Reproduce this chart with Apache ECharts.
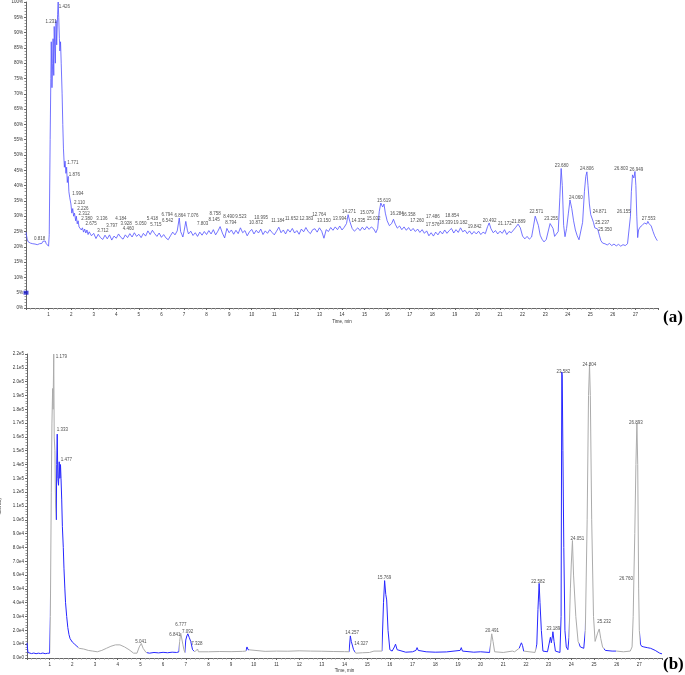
<!DOCTYPE html>
<html>
<head>
<meta charset="utf-8">
<script src="https://cdn.jsdelivr.net/npm/echarts@6/dist/echarts.min.js"></script>
<style>
  html, body { margin: 0; padding: 0; background: #fff; }
  #chart { width: 685px; height: 675px; }
</style>
</head>
<body>
<div id="chart"></div>
<script>
// (a) TIC, % intensity vs time (min)
var aTrace = [
  [0,24.8],[0.05,22.5],[0.1,21.6],[0.15,22.0],[0.2,21.2],[0.25,21.8],[0.3,21.0],[0.35,21.5],[0.4,20.9],[0.45,21.4],
  [0.5,20.7],[0.55,21.3],[0.6,21.0],[0.65,21.6],[0.7,21.1],[0.75,21.8],[0.8,21.3],[0.85,21.9],[0.9,21.0],[0.95,20.4],
  [1.0,20.2],[1.03,24],[1.07,55],[1.1,75],[1.12,87],[1.15,72],[1.18,80],[1.2,88],[1.23,76],[1.25,92],
  [1.28,84],[1.3,80],[1.33,94],[1.36,86],[1.4,96],[1.426,100],[1.45,95],[1.48,88],[1.5,84],[1.53,87],
  [1.56,80],[1.6,70],[1.63,60],[1.66,52],[1.7,46],[1.73,48],[1.77,44],[1.8,46],[1.83,41],[1.87,43],
  [1.9,38],[1.94,36],[1.99,34],[2.03,31],[2.07,32.5],[2.11,30],[2.15,31],[2.2,28.5],[2.23,30],[2.27,27.5],
  [2.31,28.5],[2.35,26.5],[2.4,27],[2.45,25.5],[2.5,26.2],[2.55,24.8],[2.6,25.8],[2.65,24.5],[2.7,25.5],[2.75,24],
  [2.8,24.9],[2.9,23.6],[3.0,24.4],[3.1,22.7],[3.2,24.1],[3.3,23.0],[3.4,22.4],[3.5,23.8],[3.6,22.6],[3.7,23.9],
  [3.8,22.2],[3.9,23.5],[4.0,22.8],[4.1,24.2],[4.2,23.1],[4.3,22.5],[4.4,23.9],[4.5,23.0],[4.6,24.3],[4.7,23.2],
  [4.8,24.6],[4.9,23.4],[5.0,24.1],[5.1,23.0],[5.2,24.4],[5.3,23.5],[5.4,25.2],[5.5,24.0],[5.6,25.4],[5.7,24.3],
  [5.8,23.4],[5.9,24.5],[6.0,23.1],[6.1,24.0],[6.2,22.9],[6.3,22.3],[6.4,23.6],[6.5,24.8],[6.6,23.9],[6.7,25.2],
  [6.79,29.4],[6.85,25.0],[6.9,24.1],[6.95,23.2],[7.0,25.0],[7.08,28.3],[7.15,25.4],[7.2,24.2],[7.3,25.1],[7.4,23.7],
  [7.5,24.6],[7.6,23.4],[7.7,24.8],[7.8,23.8],[7.9,25.0],[8.0,24.0],[8.1,25.3],[8.2,24.2],[8.3,25.6],[8.4,23.9],
  [8.5,25.1],[8.6,26.6],[8.7,24.5],[8.8,22.9],[8.9,26.0],[9.0,24.6],[9.1,25.5],[9.2,24.1],[9.3,25.4],[9.4,24.3],
  [9.5,26.2],[9.6,24.6],[9.7,25.3],[9.8,23.6],[9.9,24.9],[10.0,25.7],[10.1,24.2],[10.2,25.4],[10.3,24.5],[10.4,25.8],
  [10.5,24.0],[10.6,25.2],[10.7,24.4],[10.8,25.6],[10.9,24.7],[11.0,23.9],[11.1,25.1],[11.2,26.4],[11.3,24.6],[11.4,25.5],
  [11.5,24.2],[11.6,25.7],[11.7,24.8],[11.8,26.0],[11.9,24.5],[12.0,25.3],[12.1,24.1],[12.2,25.8],[12.3,24.9],[12.4,26.3],
  [12.5,25.0],[12.6,24.3],[12.7,25.6],[12.8,25.9],[12.9,24.8],[13.0,26.2],[13.1,25.1],[13.2,22.8],[13.3,25.6],[13.4,25.0],
  [13.5,26.3],[13.6,25.4],[13.7,26.5],[13.8,25.6],[13.9,26.8],[14.0,25.5],[14.1,26.4],[14.2,27.6],[14.27,30.5],[14.35,28.2],
  [14.45,26.0],[14.55,25.1],[14.7,26.2],[14.8,25.3],[14.9,26.4],[15.0,25.5],[15.1,26.6],[15.2,25.7],[15.3,26.5],[15.4,25.9],
  [15.5,24.6],[15.58,26.0],[15.65,31.5],[15.72,34.3],[15.8,33.0],[15.86,34.0],[15.92,31.0],[16.0,28.5],[16.1,26.9],[16.2,27.6],
  [16.28,29.0],[16.36,27.4],[16.45,26.1],[16.55,26.8],[16.65,25.6],[16.75,26.5],[16.85,25.4],[16.95,26.3],[17.05,25.2],[17.15,26.0],
  [17.25,25.0],[17.35,25.8],[17.45,24.7],[17.55,25.6],[17.65,24.4],[17.75,25.2],[17.85,23.6],[17.95,24.6],[18.05,23.5],[18.15,24.8],
  [18.25,23.9],[18.35,25.1],[18.45,24.2],[18.55,25.5],[18.65,24.4],[18.75,25.3],[18.85,26.0],[18.95,24.5],[19.05,25.6],[19.15,24.7],
  [19.25,26.2],[19.35,24.9],[19.45,25.4],[19.55,24.3],[19.65,25.2],[19.75,24.1],[19.85,25.0],[19.95,24.2],[20.05,25.1],[20.15,24.0],
  [20.25,24.8],[20.35,24.3],[20.45,26.6],[20.52,27.8],[20.6,25.9],[20.7,24.6],[20.8,25.3],[20.9,24.2],[21.0,25.1],[21.1,24.4],
  [21.2,25.6],[21.3,24.0],[21.4,25.0],[21.5,24.6],[21.6,25.5],[21.7,26.4],[21.8,27.4],[21.9,26.2],[22.0,23.5],[22.1,22.6],
  [22.2,23.4],[22.3,22.5],[22.4,23.2],[22.48,26.5],[22.56,30.0],[22.62,30.5],[22.7,27.0],[22.78,23.8],[22.86,22.5],[22.95,21.6],
  [23.05,22.4],[23.15,25.5],[23.22,27.6],[23.28,28.2],[23.35,26.0],[23.42,23.4],[23.5,23.0],[23.58,25.0],[23.65,36.0],[23.71,45.6],
  [23.76,40.0],[23.82,27.0],[23.88,23.3],[23.95,26.0],[24.03,31.0],[24.1,35.3],[24.18,32.5],[24.26,28.5],[24.34,25.5],[24.42,23.6],
  [24.5,22.3],[24.58,22.8],[24.66,28.0],[24.74,38.0],[24.8,43.0],[24.85,44.5],[24.9,40.0],[24.96,34.0],[25.02,30.5],[25.08,30.2],
  [25.14,28.0],[25.2,26.2],[25.27,26.8],[25.33,25.8],[25.4,23.8],[25.47,22.0],[25.55,21.2],[25.65,21.0],[25.75,20.6],[25.85,21.1],
  [25.95,20.4],[26.05,20.9],[26.15,20.3],[26.25,20.8],[26.35,20.2],[26.45,20.7],[26.55,20.4],[26.65,21.0],[26.72,21.5],[26.78,30.0],
  [26.82,38.0],[26.87,43.5],[26.93,42.5],[26.98,44.6],[27.02,40.0],[27.06,30.0],[27.1,23.0],[27.14,25.5],[27.2,26.4],[27.3,27.0],
  [27.4,27.8],[27.5,27.4],[27.55,28.3],[27.6,27.6],[27.7,26.8],[27.78,25.0],[27.85,23.6],[27.92,22.6],[27.97,22.0]
];

// (a) peak labels: [label x (min), label y (%), text]
var aLabels = [
  [0.6,22.5,'0.818'],[1.11,93.5,'1.231'],[1.70,98.6,'1.426'],[2.08,47.6,'1.771'],[2.14,43.7,'1.876'],
  [2.30,37.2,'1.994'],[2.37,34.3,'2.110'],[2.52,32.5,'2.226'],[2.58,30.9,'2.312'],[2.70,29.0,'2.380'],
  [2.88,27.5,'2.675'],[3.36,29.2,'3.136'],[3.41,25.4,'3.712'],[3.80,27.0,'3.797'],[4.20,29.2,'4.184'],
  [4.44,27.6,'3.928'],[4.54,25.9,'4.460'],[5.09,27.4,'5.050'],[5.60,29.0,'5.418'],[5.75,27.2,'5.715'],
  [6.25,30.6,'6.794'],[6.27,28.4,'6.542'],[6.83,30.2,'6.864'],[7.39,30.3,'7.076'],[7.83,27.5,'7.803'],
  [8.38,30.9,'8.758'],[8.33,28.9,'8.145'],[8.99,29.7,'8.490'],[9.08,27.7,'8.794'],[9.52,29.8,'9.523'],
  [10.19,27.7,'10.872'],[10.42,29.4,'10.995'],[11.16,28.4,'11.184'],[11.77,29.0,'11.652'],[12.42,29.1,'12.383'],
  [12.99,30.5,'12.764'],[13.20,28.4,'13.150'],[13.89,29.1,'13.994'],[14.31,31.5,'14.271'],[14.73,28.5,'14.335'],
  [15.10,31.0,'15.079'],[15.40,29.0,'15.032'],[15.85,35.1,'15.619'],[16.43,30.9,'16.284'],[16.95,30.5,'16.358'],
  [17.33,28.4,'17.260'],[18.03,29.8,'17.486'],[18.01,27.3,'17.576'],[18.60,27.9,'18.339'],[18.88,30.1,'18.854'],
  [19.25,27.9,'19.182'],[19.88,26.7,'19.842'],[20.54,28.4,'20.492'],[21.22,27.4,'21.172'],[21.83,28.2,'21.889'],
  [22.61,31.6,'22.571'],[23.27,29.3,'23.255'],[23.73,46.6,'23.680'],[24.36,35.9,'24.060'],[24.85,45.4,'24.806'],
  [25.41,31.6,'24.871'],[25.53,27.8,'25.237'],[25.66,25.7,'25.350'],[26.49,31.3,'26.155'],[26.37,45.4,'26.803'],
  [27.04,45.1,'26.949'],[27.58,29.3,'27.553']
];

// (b) XIC, intensity in units of 1e4 vs time (min)
var bTrace = [
  [0,1.1],[0.02,1.2],[0.04,0.4],[0.1,0.35],[0.2,0.32],[0.3,0.36],[0.4,0.31],[0.5,0.35],[0.6,0.32],[0.7,0.36],
  [0.8,0.31],[0.9,0.34],[1.0,0.35],[1.03,3],[1.07,12],[1.1,17],[1.13,19.5],[1.15,18],[1.179,22],[1.2,16],
  [1.23,15],[1.26,11],[1.29,10],[1.31,14],[1.333,16.2],[1.36,13],[1.39,12.5],[1.42,14.2],[1.45,13],[1.477,14],
  [1.5,13],[1.53,11.5],[1.56,9.5],[1.6,8],[1.63,6.5],[1.67,5],[1.7,4],[1.75,3],[1.8,2.2],[1.85,1.7],
  [1.9,1.4],[1.95,1.3],[2.0,1.15],[2.05,1.2],[2.1,1.0],[2.15,0.95],[2.2,0.85],[2.3,0.7],[2.5,0.65],[2.7,0.55],
  [2.9,0.5],[3.1,0.45],[3.3,0.55],[3.5,0.7],[3.7,0.85],[3.9,0.95],[4.1,0.95],[4.3,0.8],[4.5,0.6],[4.7,0.35],
  [4.85,0.35],[4.95,0.8],[5.04,1.05],[5.12,0.7],[5.25,0.4],[5.4,0.35],[5.6,0.4],[5.8,0.37],[6.0,0.41],[6.2,0.38],
  [6.4,0.42],[6.6,0.4],[6.7,0.45],[6.73,1.2],[6.777,1.8],[6.82,1.45],[6.84,1.5],[6.87,1.0],[6.92,0.6],[6.96,0.4],
  [7.0,1.3],[7.05,1.6],[7.092,1.75],[7.15,1.5],[7.22,1.2],[7.3,0.6],[7.4,0.45],[7.48,0.45],[7.52,0.65],[7.56,0.45],
  [8.0,0.45],[8.5,0.47],[9.0,0.46],[9.5,0.48],[9.65,0.5],[9.7,0.8],[9.75,0.6],[9.8,0.5],[10.5,0.48],[11.0,0.5],
  [11.5,0.49],[12.0,0.52],[12.5,0.5],[13.0,0.49],[13.5,0.47],[14.0,0.46],[14.2,0.45],[14.257,1.6],[14.3,1.2],[14.327,1.3],
  [14.4,0.6],[14.5,0.35],[14.8,0.38],[15.1,0.4],[15.3,0.5],[15.35,0.45],[15.65,0.5],[15.72,4],[15.769,5.6],[15.82,4.6],
  [15.86,4.2],[15.92,2],[16.0,0.6],[16.1,0.5],[16.2,0.8],[16.25,1.0],[16.32,0.6],[16.4,0.5],[16.7,0.42],[17.0,0.45],
  [17.15,0.55],[17.2,0.75],[17.25,0.55],[17.6,0.45],[18.0,0.42],[18.5,0.44],[19.1,0.55],[19.15,0.75],[19.2,0.5],[19.7,0.42],
  [20.0,0.45],[20.4,0.4],[20.45,1.1],[20.491,1.75],[20.55,1.2],[20.62,0.45],[21.0,0.4],[21.4,0.5],[21.45,0.6],[21.5,0.45],
  [21.7,0.7],[21.8,1.1],[21.85,0.9],[21.9,0.5],[22.4,0.4],[22.48,1],[22.53,3.5],[22.582,5.4],[22.62,4],[22.68,2],
  [22.75,0.5],[22.95,0.45],[23.0,0.5],[23.08,1.5],[23.12,1.1],[23.17,1.6],[23.189,1.9],[23.24,1.2],[23.3,0.5],[23.5,0.4],
  [23.55,3],[23.582,20.7],[23.6,20.5],[23.63,15],[23.67,8],[23.72,2],[23.78,0.8],[23.85,0.6],[23.9,1.5],[23.96,5],
  [24.0,6.8],[24.051,8.5],[24.1,6],[24.2,3],[24.3,1.2],[24.4,0.8],[24.55,0.7],[24.62,2],[24.7,10],[24.76,19],
  [24.804,21.2],[24.84,19],[24.9,10],[24.98,3],[25.05,1.2],[25.1,1.2],[25.16,1.8],[25.232,2.1],[25.3,1.4],[25.38,0.8],
  [25.5,0.55],[25.8,0.5],[26.0,0.5],[26.3,0.45],[26.6,0.5],[26.68,0.8],[26.73,3],[26.76,5.8],[26.8,9],[26.85,14],
  [26.893,17],[26.93,14],[26.97,5],[27.0,2],[27.05,1.0],[27.1,0.85],[27.2,0.8],[27.35,0.75],[27.5,0.7],[27.7,0.55],
  [27.9,0.35],[28.0,0.3]
];

// (b) time windows drawn in grey, the rest of the trace is blue
var bGrey = [
  [1.02,1.3],[2.25,5.3],[6.72,6.95],[7.35,9.65],[9.8,14.2],[14.45,15.65],[20.4,21.7],
  [21.9,22.45],[23.88,24.35],[24.62,25.45],[25.95,27.05]
];

// (b) peak labels: [label x (min), label y (1e4), text]
var bLabels = [
  [1.52,21.8,'1.179'],[1.56,16.5,'1.333'],[1.74,14.35,'1.477'],[5.02,1.2,'5.041'],[6.78,2.4,'6.777'],
  [6.52,1.7,'6.841'],[7.08,1.93,'7.092'],[7.49,1.06,'7.328'],[14.34,1.79,'14.257'],[14.73,1.04,'14.327'],
  [15.76,5.84,'15.769'],[20.51,2.0,'20.491'],[22.54,5.52,'22.582'],[23.21,2.15,'23.189'],[23.65,20.7,'23.582'],
  [24.80,21.2,'24.804'],[24.27,8.63,'24.051'],[26.85,17.05,'26.893'],[26.42,5.77,'26.760'],[25.45,2.6,'25.232']
];

var xTicks = { min: 0, max: 28, interval: 1 };
var FONT = 'Liberation Sans';

var chart = echarts.init(document.getElementById('chart'), null, { renderer: 'canvas' });

function timeAxis(gridIndex, gap) {
  return {
    type: 'value', gridIndex: gridIndex,
    min: xTicks.min, max: xTicks.max, interval: xTicks.interval,
    name: 'Time, min', nameLocation: 'middle', nameGap: gap,
    nameTextStyle: { fontSize: 4.5, color: '#333', fontFamily: FONT },
    axisLine: { onZero: false, lineStyle: { color: '#666', width: 1 } },
    axisTick: { show: true, length: 2, lineStyle: { color: '#666' } },
    minorTick: { show: true, splitNumber: 5, length: 1.5, lineStyle: { color: '#999' } },
    splitLine: { show: false },
    axisLabel: {
      fontSize: 4.5, color: '#333', margin: 4, fontFamily: FONT,
      formatter: function (v) { return (v === 0 || v === 28) ? '' : v; }
    }
  };
}

var bPieces = [];
for (let g of bGrey) {
  bPieces.push({ gte: g[0], lt: g[1], color: '#ababab' });
}

function labelSeries(idx, data) {
  return {
    type: 'scatter', xAxisIndex: idx, yAxisIndex: idx,
    symbolSize: 0, silent: true, z: 5,
    data: data,
    label: {
      show: true, position: 'inside', fontSize: 4.5, color: '#222', fontFamily: FONT,
      formatter: function (p) { return p.value[2]; }
    }
  };
}

var option = {
  animation: false,
  backgroundColor: '#fff',
  grid: [
    { left: 26, top: 2, width: 632, height: 306, containLabel: false, outerBoundsMode: 'none' },
    { left: 27, top: 354, width: 635, height: 304, containLabel: false, outerBoundsMode: 'none' }
  ],
  xAxis: [timeAxis(0, 11), timeAxis(1, 9)],
  yAxis: [
    {
      type: 'value', gridIndex: 0, min: 0, max: 100, interval: 5,
      name: '% Intensity (of 1.1e7)', nameLocation: 'middle', nameGap: 17,
      nameTextStyle: { fontSize: 4.5, color: '#333', fontFamily: FONT },
      axisLine: { show: true, lineStyle: { color: '#666' } },
      axisTick: { show: true, length: 2, lineStyle: { color: '#666' } },
      minorTick: { show: true, splitNumber: 5, length: 1.5, lineStyle: { color: '#999' } },
      splitLine: { show: false },
      axisLabel: { fontSize: 4.5, color: '#333', margin: 3, fontFamily: FONT, formatter: '{value}%' }
    },
    {
      type: 'value', gridIndex: 1, min: 0, max: 22, interval: 1,
      name: 'Intensity', nameLocation: 'middle', nameGap: 19,
      nameTextStyle: { fontSize: 4.5, color: '#333', fontFamily: FONT },
      axisLine: { show: true, lineStyle: { color: '#666' } },
      axisTick: { show: true, length: 2, lineStyle: { color: '#666' } },
      minorTick: { show: true, splitNumber: 5, length: 1.5, lineStyle: { color: '#999' } },
      splitLine: { show: false },
      axisLabel: {
        fontSize: 4.5, color: '#333', margin: 3, fontFamily: FONT,
        formatter: function (v) {
          if (v === 0) return '0.0e0';
          return v < 10 ? v.toFixed(1) + 'e4' : (v / 10).toFixed(1) + 'e5';
        }
      }
    }
  ],
  visualMap: [{
    type: 'piecewise', show: false, dimension: 0, seriesIndex: 2,
    pieces: bPieces,
    outOfRange: { color: '#2626ff' }
  }],
  series: [
    {
      type: 'line', xAxisIndex: 0, yAxisIndex: 0, data: aTrace,
      symbol: 'none', lineStyle: { color: '#5050ff', width: 0.8 }, z: 3
    },
    {
      // small marker on the axis of (a)
      type: 'scatter', xAxisIndex: 0, yAxisIndex: 0, data: [[0, 5]],
      symbol: 'rect', symbolSize: [5, 4], itemStyle: { color: '#1a1acc' }, silent: true
    },
    {
      type: 'line', xAxisIndex: 1, yAxisIndex: 1, data: bTrace,
      symbol: 'none', lineStyle: { width: 1 }, z: 3
    },
    labelSeries(0, aLabels),
    labelSeries(1, bLabels)
  ],
  graphic: [
    { type: 'text', left: 663, top: 309, style: { text: '(a)', font: 'bold 17px "Liberation Serif"', fill: '#000' } },
    { type: 'text', left: 663, top: 656, style: { text: '(b)', font: 'bold 17px "Liberation Serif"', fill: '#000' } }
  ]
};

chart.setOption(option);
</script>
</body>
</html>
